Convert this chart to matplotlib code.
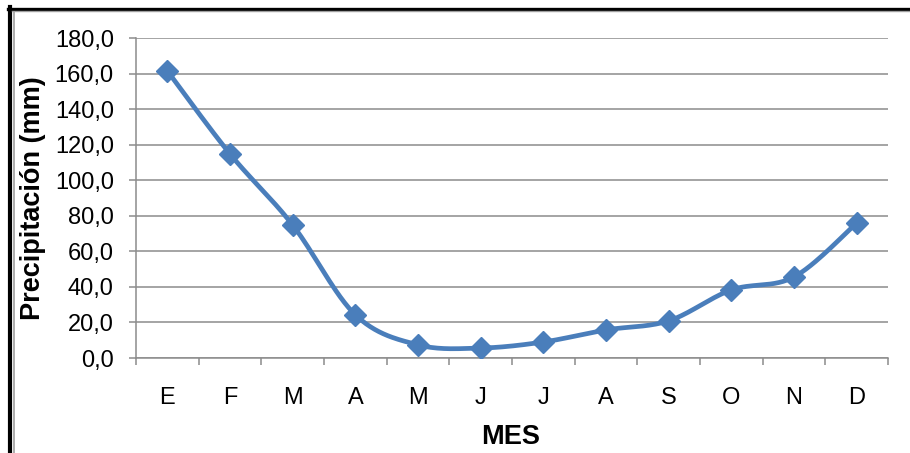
import numpy as np
import matplotlib
matplotlib.use("Agg")
import matplotlib.pyplot as plt
from matplotlib.lines import Line2D
from matplotlib.ticker import FuncFormatter

months = ["E", "F", "M", "A", "M", "J", "J", "A", "S", "O", "N", "D"]
precip = [161.5, 114.8, 74.8, 24.3, 7.4, 5.6, 9.0, 15.8, 20.9, 38.3, 45.6, 75.9]
y_ticks = [0, 20, 40, 60, 80, 100, 120, 140, 160, 180]

plt.rcParams['font.family'] = ['Liberation Sans', 'DejaVu Sans']

W, H = 910, 453
fig = plt.figure(figsize=(W / 100, H / 100), dpi=100)
ax = fig.add_axes([136 / W, 1 - 358 / H, (888 - 136) / W, (358 - 38) / H])

color = "#4A7EBB"
x = np.arange(len(precip), dtype=float)
y = np.array(precip, dtype=float)

# Catmull-Rom smoothing (like Excel's smoothed line)
px = np.concatenate([[x[0]], x, [x[-1]]])
py = np.concatenate([[y[0]], y, [y[-1]]])
cx, cy = [], []
t = np.linspace(0, 1, 30)
for i in range(1, len(px) - 2):
    p0, p1, p2, p3 = (px[i - 1], py[i - 1]), (px[i], py[i]), (px[i + 1], py[i + 1]), (px[i + 2], py[i + 2])
    c1 = (p1[0] + (p2[0] - p0[0]) / 6, p1[1] + (p2[1] - p0[1]) / 6)
    c2 = (p2[0] - (p3[0] - p1[0]) / 6, p2[1] - (p3[1] - p1[1]) / 6)
    for k in range(2):
        pts = [p1[k], c1[k], c2[k], p2[k]]
        b = ((1 - t) ** 3) * pts[0] + 3 * ((1 - t) ** 2) * t * pts[1] + 3 * (1 - t) * t ** 2 * pts[2] + t ** 3 * pts[3]
        (cx if k == 0 else cy).append(b)
cx = np.concatenate(cx)
cy = np.concatenate(cy)

ax.plot(cx, cy, color=color, lw=3.4, solid_capstyle='round', zorder=3)
ax.plot(x, y, linestyle='none', marker='D', markersize=11, color=color, zorder=4)

ax.set_xlim(-0.5, len(precip) - 0.5)
ax.set_ylim(0, 180)
ax.set_yticks(y_ticks)
ax.yaxis.set_major_formatter(FuncFormatter(lambda v, p: f"{v:.1f}".replace(".", ",")))
ax.grid(axis='y', color='#8C8C8C', lw=1.1)
ax.set_axisbelow(True)

ax.set_xticks(x)
ax.set_xticklabels(months)
ax.set_xticks(np.arange(-0.5, len(precip)), minor=True)
ax.tick_params(axis='x', which='major', length=0, pad=21, labelsize=17)
ax.tick_params(axis='x', which='minor', length=5, color='#8C8C8C', width=1.1)
ax.tick_params(axis='y', length=5, color='#8C8C8C', width=1.1, pad=11, labelsize=17)

for s in ['top', 'right']:
    ax.spines[s].set_visible(False)
for s in ['left', 'bottom']:
    ax.spines[s].set_color('#8C8C8C')
    ax.spines[s].set_linewidth(1.1)

fig.text(33 / W, 1 - 198 / H, "Precipitación (mm)", rotation=90, ha='center', va='center',
         fontsize=19.5, fontweight='bold')
fig.text(511 / W, 1 - 437 / H, "MES", ha='center', va='center', fontsize=19.5, fontweight='bold')

# Frame
fig.add_artist(Line2D([10 / W, 10 / W], [0, 1 - 7 / H], transform=fig.transFigure, color='black', lw=3))
fig.add_artist(Line2D([13.5 / W, 13.5 / W], [0, 1 - 10 / H], transform=fig.transFigure, color='#A0A0A0', lw=1.2))
fig.add_artist(Line2D([8 / W, 1], [1 - 8.5 / H, 1 - 8.5 / H], transform=fig.transFigure, color='black', lw=2.4))
fig.add_artist(Line2D([12 / W, 1], [1 - 11 / H, 1 - 11 / H], transform=fig.transFigure, color='#A0A0A0', lw=1.0))

fig.savefig("out.png", dpi=100)
